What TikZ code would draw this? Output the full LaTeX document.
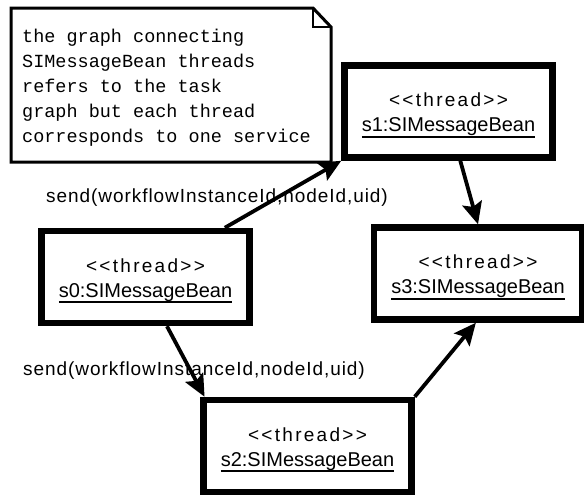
\documentclass[tikz,border=0pt]{standalone}
\usepackage{fontspec}
\setmainfont{Liberation Sans}
\newfontfamily\thrfont[LetterSpace=12]{Liberation Sans}
\newfontfamily\lblfont[LetterSpace=5]{Liberation Sans}
\newfontfamily\monofont{Liberation Mono}
\usetikzlibrary{arrows.meta,calc}
\newcommand\thrlbl{\rule{0pt}{21pt}{\thrfont\fontsize{19}{25}\selectfont\textless\textless thread\textgreater\textgreater}}
\newcommand\ulname[1]{\sbox0{#1}\rlap{\rule[-6pt]{\wd0}{1.8pt}}\usebox0}
\begin{document}
\begin{tikzpicture}[x=1pt,y=-1pt,
  box/.style={draw, line width=6.5pt, fill=white, minimum width=208pt, minimum height=92pt,
    inner sep=0pt, align=center, font=\fontsize{20}{25}\selectfont},
  conn/.style={line width=3.8pt, -{Stealth[length=22pt,width=20pt,inset=4pt]}},
  lbl/.style={inner sep=0pt, font=\lblfont\fontsize{19}{25}\selectfont},
  notebox/.style={line width=3pt, fill=white, line join=miter},
  notefold/.style={line width=2pt},
]
\useasboundingbox (0,0) rectangle (584,496);
% note
\draw[notebox] (11,8) -- (313,8) -- (331,27) -- (331,162) -- (11,162) -- cycle;
\draw[notefold] (313,8) -- (313,27) -- (331,27);
\node[inner sep=0pt, anchor=north west, align=left,
  font=\monofont\fontsize{18.5}{25}\selectfont] (notetext) at (22,29)
  {the graph connecting\\SIMessageBean threads\\refers to the task\\graph but each thread\\corresponds to one service};
% boxes
\node[box] (s0) at (145.5,277) {\thrlbl\\\ulname{s0:SIMessageBean}};
\node[box] (s1) at (448.5,111.5) {\thrlbl\\\ulname{s1:SIMessageBean}};
\node[box] (s3) at (478,273.5) {\thrlbl\\\ulname{s3:SIMessageBean}};
\node[box] (s2) at (307.5,446) {\thrlbl\\\ulname{s2:SIMessageBean}};
% labels
\node[lbl] (l1) at (217,198) {send(workflowInstanceId,nodeId,uid)};
\node[lbl] (l2) at (194,371) {send(workflowInstanceId,nodeId,uid)};
% connectors
\draw[conn] ($(s0.north west)!0.87!(s0.north east)$) -- (s1.south west);
\draw[conn] ($(s1.south west)!0.555!(s1.south east)$) -- (s3.north);
\draw[conn] ($(s0.south west)!0.6!(s0.south east)$) -- ($(s2.north west)!0.02!(s2.north east)$);
\draw[conn] (s2.north east) -- ($(s3.south west)!0.49!(s3.south east)$);
\end{tikzpicture}
\end{document}
